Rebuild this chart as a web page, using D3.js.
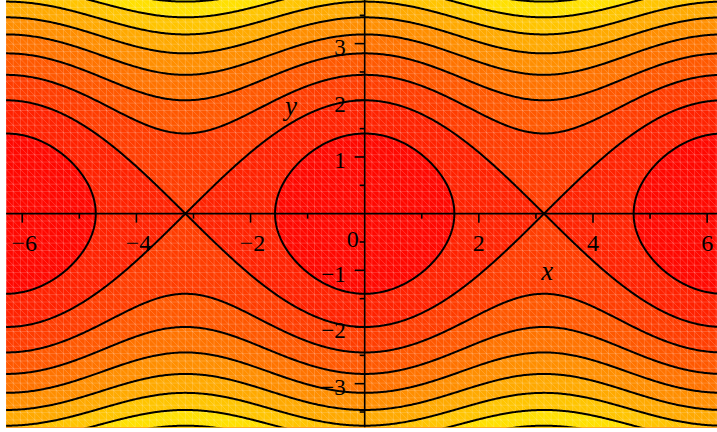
<!DOCTYPE html>
<html><head><meta charset="utf-8">
<script src="https://cdn.jsdelivr.net/npm/d3@7"></script>
<style>
html,body{margin:0;padding:0;background:#fff;overflow:hidden}
svg{display:block}
text{font-family:"Liberation Serif","DejaVu Serif",serif;fill:#000}
</style></head>
<body>
<svg id="chart" width="717" height="432"></svg>
<script>
// ---- data ----
const xDomain = [-2 * Math.PI, 2 * Math.PI];
const yDomain = [-1.2 * Math.PI, 1.2 * Math.PI];
// energy of the pendulum: H(x, y) = y^2/2 - cos(x)
const energy = (x, y) => y * y / 2 - Math.cos(x);
const contourLevels = [0, 1, 2, 3, 4, 5, 6, 7, 8];
const bandColors = ["#ff0800", "#ff2200", "#ff3d00", "#ff5800", "#ff7300", "#ff8e00", "#ffa900", "#ffc400", "#ffe000", "#ffff00"];
const xTicksMajor = [-6, -4, -2, 2, 4, 6];
const xTicksMinor = [-5, -3, -1, 1, 3, 5];
const yTicksMajor = [-3, -2, -1, 1, 2, 3];
const yTicksMinor = [-3.5, -2.5, -1.5, -0.5, 0.5, 1.5, 2.5, 3.5];
const xTickLabels = ["\u22126", "\u22124", "\u22122", "2", "4", "6"];
const yTickLabels = ["\u22123", "\u22122", "\u22121", "1", "2", "3"];

// ---- layout ----
const svg = d3.select("#chart");
const x = d3.scaleLinear().domain(xDomain).range([6.1, 723.3]);
const y = d3.scaleLinear().domain(yDomain).range([427.3, 0]);
const plotLeft = x(xDomain[0]), plotRight = 717, plotTop = 0, plotBottom = y(yDomain[0]);

svg.append("defs").append("clipPath").attr("id", "clip")
  .append("rect").attr("x", plotLeft).attr("y", plotTop)
  .attr("width", plotRight - plotLeft).attr("height", plotBottom - plotTop);

// sampling grid (extended beyond domain so border edges are clipped away)
const pad = 0.3;
const ex0 = xDomain[0] - pad, ex1 = xDomain[1] + pad;
const ey0 = yDomain[0] - pad, ey1 = yDomain[1] + pad;
const nx = 520, ny = 320;
const dx = (ex1 - ex0) / nx, dy = (ey1 - ey0) / ny;
const values = new Float64Array(nx * ny);
for (let j = 0; j < ny; j++) {
  const yy = ey1 - (j + 0.5) * dy;
  for (let i = 0; i < nx; i++) {
    const xx = ex0 + (i + 0.5) * dx;
    values[j * nx + i] = energy(xx, yy);
  }
}
const contours = d3.contours().size([nx, ny]).thresholds(contourLevels)(values);
const proj = d3.geoTransform({
  point: function (px, py) { this.stream.point(x(ex0 + px * dx), y(ey1 - py * dy)); }
});
const path = d3.geoPath(proj);

const g = svg.append("g").attr("clip-path", "url(#clip)");
g.append("rect").attr("x", plotLeft).attr("y", plotTop)
  .attr("width", plotRight - plotLeft).attr("height", plotBottom - plotTop)
  .attr("fill", bandColors[0]);
g.selectAll("path.band").data(contours).join("path")
  .attr("class", "band")
  .attr("d", path)
  .attr("fill", (d, i) => bandColors[i + 1])
  .attr("stroke", (d, i) => bandColors[i + 1])
  .attr("stroke-width", 0.5);

// rendering mesh (light triangulation lines)
const meshNx = 100, meshNy = 58;
const mesh = g.append("g").attr("stroke", "#fff").attr("stroke-opacity", 0.18).attr("stroke-width", 1).attr("fill", "none");
const mx = d3.scaleLinear().domain([0, meshNx]).range([x(xDomain[0]), x(xDomain[1])]);
const my = d3.scaleLinear().domain([0, meshNy]).range([y(yDomain[1]), y(yDomain[0])]);
let md = "";
for (let i = 0; i <= meshNx; i++) md += `M${mx(i)},${my(0)}V${my(meshNy)}`;
for (let j = 0; j <= meshNy; j++) md += `M${mx(0)},${my(j)}H${mx(meshNx)}`;
for (let i = 0; i < meshNx; i++) for (let j = 0; j < meshNy; j++) md += `M${mx(i)},${my(j)}L${mx(i + 1)},${my(j + 1)}`;
mesh.append("path").attr("d", md);

// contour lines
g.selectAll("path.line").data(contours).join("path")
  .attr("class", "line")
  .attr("d", path)
  .attr("fill", "none")
  .attr("stroke", "#000")
  .attr("stroke-width", 2)
  .attr("stroke-linejoin", "round");

// ---- axes ----
const x0 = x(0), y0 = y(0);
const ax = svg.append("g").attr("stroke", "#000").attr("stroke-width", 1.6);
ax.append("line").attr("x1", plotLeft).attr("x2", plotRight).attr("y1", y0).attr("y2", y0);
ax.append("line").attr("x1", x0).attr("x2", x0).attr("y1", plotTop).attr("y2", plotBottom);
ax.selectAll("line.xM").data(xTicksMajor).join("line").attr("class", "xM")
  .attr("x1", d => x(d)).attr("x2", d => x(d)).attr("y1", y0).attr("y2", y0 + 9);
ax.selectAll("line.xm").data(xTicksMinor).join("line").attr("class", "xm")
  .attr("x1", d => x(d)).attr("x2", d => x(d)).attr("y1", y0).attr("y2", y0 + 5);
ax.selectAll("line.yM").data(yTicksMajor).join("line").attr("class", "yM")
  .attr("y1", d => y(d)).attr("y2", d => y(d)).attr("x1", x0).attr("x2", x0 - 10);
ax.selectAll("line.ym").data(yTicksMinor).join("line").attr("class", "ym")
  .attr("y1", d => y(d)).attr("y2", d => y(d)).attr("x1", x0).attr("x2", x0 - 5);

svg.selectAll("text.xl").data(xTicksMajor).join("text").attr("class", "xl")
  .attr("x", d => x(d) + (d < 0 ? 2 : 0)).attr("y", y0 + 37)
  .attr("text-anchor", "middle").attr("font-size", 24)
  .text((d, i) => xTickLabels[i]);
svg.selectAll("text.yl").data(yTicksMajor).join("text").attr("class", "yl")
  .attr("x", x0 - 19).attr("y", d => y(d) + 11.5)
  .attr("text-anchor", "end").attr("font-size", 23)
  .text((d, i) => yTickLabels[i]);
svg.append("text").attr("x", x0 - 12).attr("y", y0 + 33)
  .attr("text-anchor", "middle").attr("font-size", 24).text("0");
svg.append("text").attr("x", x(3.2)).attr("y", y(-1.17))
  .attr("text-anchor", "middle").attr("font-size", 27).attr("font-style", "italic").text("x");
svg.append("text").attr("x", x(-1.29)).attr("y", y(1.74))
  .attr("text-anchor", "middle").attr("font-size", 27).attr("font-style", "italic").text("y");
</script>
</body></html>
